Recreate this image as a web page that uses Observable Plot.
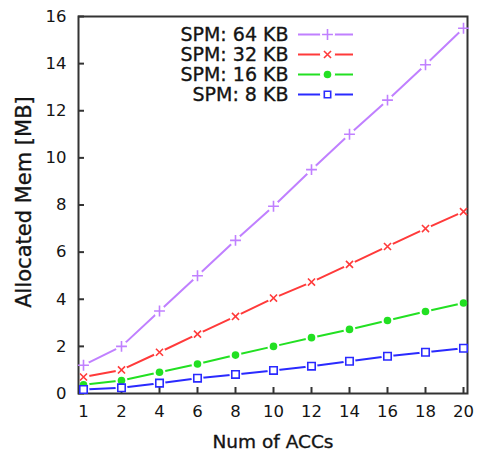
<!DOCTYPE html>
<html><head><meta charset="utf-8">
<script src="https://cdn.jsdelivr.net/npm/d3@7"></script>
<script src="https://cdn.jsdelivr.net/npm/@observablehq/plot@0.6"></script>
<style>body{margin:0;background:#fff} #chart svg{font-family:"DejaVu Sans";background:#fff}</style>
</head><body><div id="chart"></div>
<script>
const accs = [1, 2, 4, 6, 8, 10, 12, 14, 16, 18, 20];
const spm64 = [1.2, 2.0, 3.5, 5.0, 6.5, 7.95, 9.5, 11.0, 12.45, 13.95, 15.5];
const spm32 = [0.7, 1.0, 1.75, 2.52, 3.27, 4.05, 4.73, 5.48, 6.24, 7.0, 7.72];
const spm16 = [0.37, 0.55, 0.9, 1.25, 1.63, 2.0, 2.37, 2.72, 3.1, 3.48, 3.84];
const spm8 = [0.17, 0.24, 0.44, 0.65, 0.81, 0.98, 1.16, 1.37, 1.58, 1.75, 1.92];
const seriesNames = ["SPM: 64 KB", "SPM: 32 KB", "SPM: 16 KB", "SPM: 8 KB"];
const seriesValues = [spm64, spm32, spm16, spm8];
const seriesColors = ["#c080ff", "#ff3a3a", "#22e022", "#2a2aff"];
const seriesSymbols = ["plus", "times", "circle", "square"];
const yTicks = [0, 2, 4, 6, 8, 10, 12, 14, 16];

const W = 478, H = 452, mL = 78, mR = 11, mT = 16, mB = 59;
const fw = W - mL - mR, fh = H - mT - mB;
const axisColor = "#333";
const textColor = "#141414";
const textStroke = {stroke: textColor, strokeWidth: 0.35};

function symbolOpts(i, legend) {
  const s = seriesSymbols[i];
  if (s === "circle") return {symbol: s, r: 3.8, fill: seriesColors[i], stroke: null};
  if (s === "square") return {symbol: s, r: legend ? 3.6 : 4.2, fill: "white", stroke: seriesColors[i], strokeWidth: 1.6};
  if (s === "times") return {symbol: s, r: 3.3, fill: "none", stroke: seriesColors[i], strokeWidth: 1.6};
  return {symbol: s, r: 3.6, fill: "none", stroke: seriesColors[i], strokeWidth: 1.6};
}

const marks = [];
const pointMarks = [];
seriesValues.forEach((vals, i) => {
  const data = accs.map((a, j) => ({acc: a, mem: vals[j]}));
  marks.push(Plot.line(data, {x: "acc", y: "mem", stroke: seriesColors[i], strokeWidth: 2}));
  marks.push(Plot.dot(data, {x: "acc", y: "mem", r: 6, fill: "white", stroke: null}));
  pointMarks.push(Plot.dot(data, {x: "acc", y: "mem", ...symbolOpts(i, false)}));
});

// legend
const legendMarks = [];
seriesNames.forEach((name, i) => {
  const dy = 18 + 20 * i;
  legendMarks.push(Plot.text([name], {text: d => d, frameAnchor: "top-left", dx: 210, dy, textAnchor: "end", lineAnchor: "middle", fontSize: 19, fill: textColor, ...textStroke, ariaLabel: "legend"}));
  legendMarks.push(Plot.ruleY([16], {dy, insetLeft: 220, insetRight: fw - 275, stroke: seriesColors[i], strokeWidth: 2}));
  legendMarks.push(Plot.dot([0], {frameAnchor: "top-left", dx: 249, dy, r: 7.5, fill: "white", stroke: null}));
  legendMarks.push(Plot.dot([0], {frameAnchor: "top-left", dx: 249, dy, ...symbolOpts(i, true)}));
});

const chart = Plot.plot({
  width: W, height: H,
  marginLeft: mL, marginRight: mR, marginTop: mT, marginBottom: mB,
  style: {fontFamily: "DejaVu Sans", background: "#fff"},
  x: {type: "point", domain: accs, padding: 0},
  y: {domain: [0, 16]},
  marks: [
    ...marks,
    Plot.frame({stroke: axisColor, strokeWidth: 2}),
    Plot.tickY(yTicks, {y: d => d, insetRight: fw - 6, stroke: axisColor, strokeWidth: 2}),
    Plot.tickX(accs, {x: d => d, insetTop: fh - 6, stroke: axisColor, strokeWidth: 2}),
    Plot.axisY(yTicks, {tickSize: 0, tickPadding: 12, fontSize: 16.5, fill: textColor, ...textStroke, label: null}),
    Plot.axisX(accs, {tickSize: 0, tickPadding: 12, fontSize: 16.5, fill: textColor, ...textStroke, label: null}),
    Plot.text(["Allocated Mem [MB]"], {text: d => d, frameAnchor: "left", dx: -54, dy: -3, rotate: -90, textAnchor: "middle", lineAnchor: "middle", fontSize: 21, fill: textColor, ...textStroke, ariaLabel: "ylabel"}),
    Plot.text(["Num of ACCs"], {text: d => d, frameAnchor: "bottom", dy: 49, textAnchor: "middle", lineAnchor: "middle", fontSize: 18.5, fill: textColor, ...textStroke, ariaLabel: "xlabel"}),
    ...pointMarks,
    ...legendMarks
  ]
});
document.getElementById("chart").appendChild(chart);
d3.select(chart).selectAll('g[aria-label="legend"] text').attr("letter-spacing", 2.3);
d3.select(chart).selectAll('g[aria-label="ylabel"] text').attr("letter-spacing", 0.4);
d3.select(chart).selectAll('g[aria-label="xlabel"] text').attr("letter-spacing", 0.8);
</script>
</body></html>
